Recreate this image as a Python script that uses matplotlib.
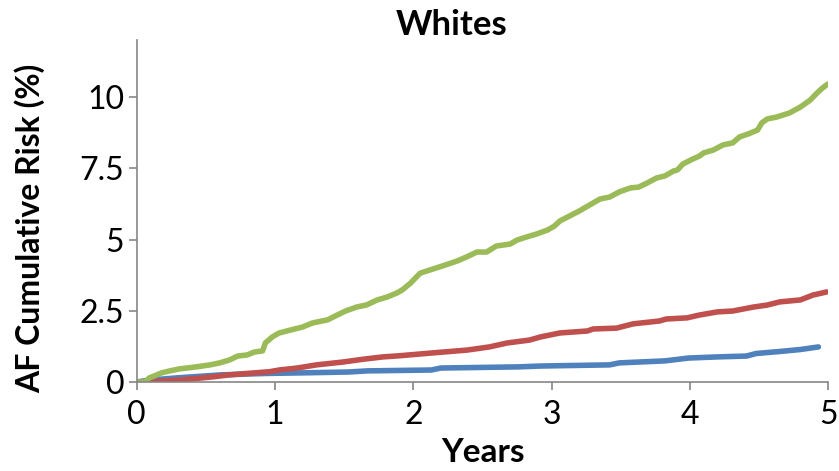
import matplotlib
matplotlib.use("Agg")
import matplotlib.pyplot as plt

# Kaplan-Meier style cumulative AF risk
years_blue = [0, 0.1, 0.28, 0.61, 0.94, 1.2, 1.53, 1.67, 2.13, 2.2, 2.76, 2.92,
              3.42, 3.49, 3.82, 3.99, 4.2, 4.41, 4.48, 4.65, 4.8, 4.93]
risk_blue = [0, 0.07, 0.14, 0.25, 0.3, 0.32, 0.35, 0.39, 0.42, 0.49, 0.53, 0.56,
             0.6, 0.67, 0.74, 0.84, 0.88, 0.91, 1.0, 1.07, 1.14, 1.23]

years_red = [0, 0.06, 0.31, 0.55, 0.67, 0.8, 0.96, 1.03, 1.16, 1.3, 1.49, 1.64,
             1.78, 1.9, 2.14, 2.39, 2.55, 2.68, 2.84, 2.92, 3.06, 3.26, 3.3,
             3.47, 3.59, 3.78, 3.83, 3.98, 4.07, 4.2, 4.31, 4.46, 4.56, 4.65,
             4.8, 4.89, 4.99]
risk_red = [0, 0, 0.07, 0.18, 0.25, 0.3, 0.36, 0.42, 0.49, 0.6, 0.7, 0.8,
            0.88, 0.92, 1.02, 1.12, 1.23, 1.37, 1.47, 1.58, 1.72, 1.79, 1.86,
            1.89, 2.04, 2.14, 2.21, 2.25, 2.35, 2.46, 2.49, 2.63, 2.7, 2.81,
            2.88, 3.05, 3.16]

years_green = [0, 0.06, 0.09, 0.18, 0.24, 0.31, 0.43, 0.53, 0.6, 0.67, 0.73,
               0.8, 0.85, 0.91, 0.93, 0.98, 1.03, 1.11, 1.2, 1.27, 1.38, 1.45,
               1.51, 1.59, 1.66, 1.74, 1.81, 1.88, 1.92, 1.98, 2.05, 2.12, 2.21,
               2.32, 2.4, 2.46, 2.53, 2.6, 2.7, 2.75, 2.82, 2.89, 2.97, 3.02,
               3.06, 3.2, 3.35, 3.42, 3.49, 3.57, 3.63, 3.69, 3.76, 3.82, 3.88,
               3.91, 3.95, 4.02, 4.07, 4.1, 4.17, 4.24, 4.31, 4.36, 4.42, 4.49,
               4.52, 4.56, 4.63, 4.72, 4.8, 4.87, 4.92, 4.96, 5.0]
risk_green = [0, 0, 0.14, 0.32, 0.39, 0.46, 0.53, 0.6, 0.67, 0.77, 0.91,
              0.95, 1.05, 1.09, 1.37, 1.58, 1.72, 1.82, 1.93, 2.07, 2.18, 2.35,
              2.49, 2.63, 2.7, 2.88, 2.98, 3.12, 3.23, 3.47, 3.82, 3.93, 4.07,
              4.25, 4.42, 4.56, 4.56, 4.77, 4.84, 4.98, 5.09, 5.19, 5.33, 5.47,
              5.65, 6.0, 6.42, 6.49, 6.67, 6.81, 6.84, 6.98, 7.16, 7.23, 7.4,
              7.44, 7.65, 7.82, 7.93, 8.04, 8.14, 8.32, 8.39, 8.6, 8.7, 8.84,
              9.09, 9.23, 9.3, 9.44, 9.65, 9.89, 10.14, 10.32, 10.46]

x_ticks = [0, 1, 2, 3, 4, 5]
y_ticks = [0, 2.5, 5, 7.5, 10]
y_tick_labels = ["0", "2.5", "5", "7.5", "10"]

plt.rcParams["font.family"] = ["Lato", "DejaVu Sans"]

fig = plt.figure(figsize=(8.39, 4.71), dpi=100)
ax = fig.add_axes([0.163, 0.189, 0.824, 0.726])

for xs, ys, c in [(years_blue, risk_blue, "#4F81BD"),
                  (years_red, risk_red, "#C0504D"),
                  (years_green, risk_green, "#9BBB59")]:
    ax.plot(xs, ys, color=c, lw=4, solid_capstyle="round",
            solid_joinstyle="round")

ax.set_xlim(0, 5)
ax.set_ylim(0, 12)
ax.set_xticks(x_ticks)
ax.set_yticks(y_ticks)
ax.set_yticklabels(y_tick_labels)
ax.tick_params(axis="both", labelsize=23, color="#868686", length=6, width=1.2)
ax.tick_params(axis="x", pad=7)
ax.tick_params(axis="y", pad=3)

for s in ["top", "right"]:
    ax.spines[s].set_visible(False)
for s in ["left", "bottom"]:
    ax.spines[s].set_color("#868686")
    ax.spines[s].set_linewidth(1.2)

fig.text(0.538, 0.947, "Whites", ha="center", va="center",
         fontsize=25, fontweight="bold")
fig.text(0.036, 0.516, "AF Cumulative Risk (%)", ha="center", va="center",
         rotation=90, fontsize=23, fontweight="bold")
fig.text(0.576, 0.019, "Years", ha="center", va="baseline",
         fontsize=24, fontweight="bold")

fig.savefig("out.png", dpi=100)
